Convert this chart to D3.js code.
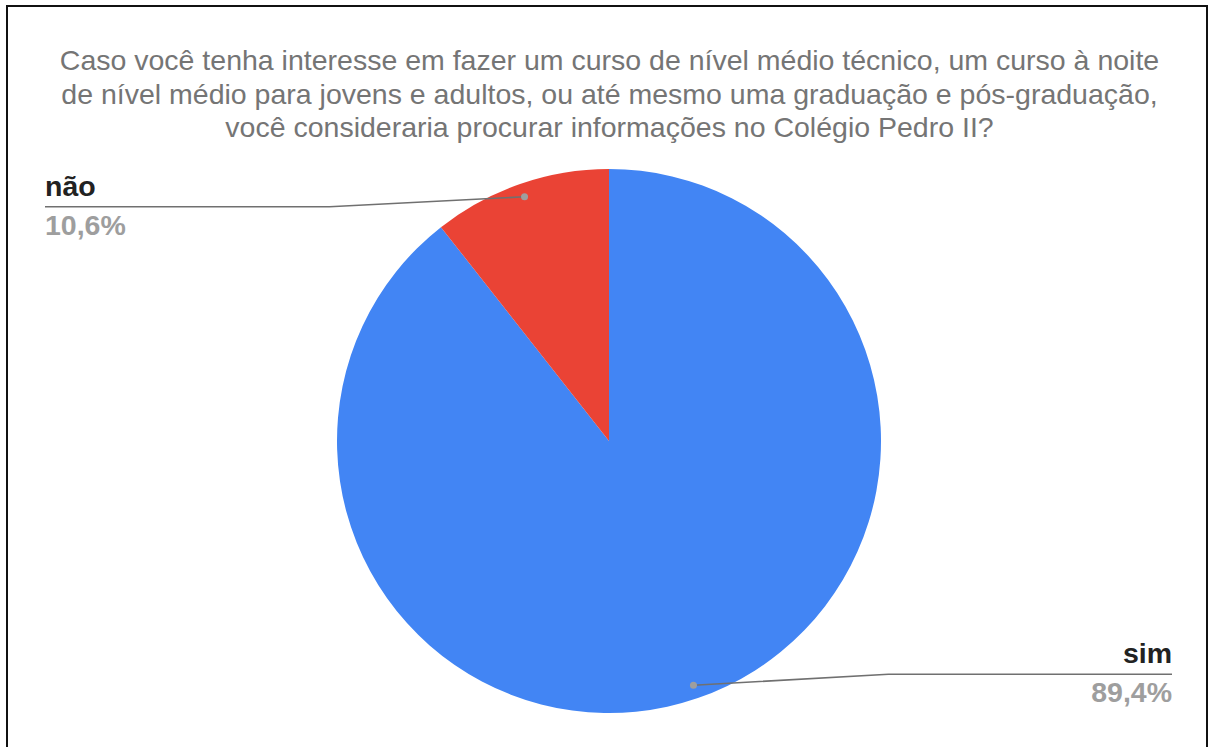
<!DOCTYPE html>
<html>
<head>
<meta charset="utf-8">
<script src="https://cdn.jsdelivr.net/npm/d3@7"></script>
<style>
  html, body { margin: 0; padding: 0; background: #fff; }
  svg { display: block; }
</style>
</head>
<body>
<svg id="chart" width="1210" height="747"></svg>
<script>
// ---- data ----
const titleLines = [
  "Caso você tenha interesse em fazer um curso de nível médio técnico, um curso à noite",
  "de nível médio para jovens e adultos, ou até mesmo uma graduação e pós-graduação,",
  "você consideraria procurar informações no Colégio Pedro II?"
];
const categories = ["sim", "não"];
const values = [89.4, 10.6];
const valueLabels = ["89,4%", "10,6%"];
const colors = ["#4285f4", "#ea4335"];

// ---- layout ----
const W = 1210, H = 747;
const cx = 609, cy = 441, R = 272;
const svg = d3.select("#chart");

svg.append("rect").attr("width", W).attr("height", H).attr("fill", "#fff");

// frame
svg.append("rect")
  .attr("x", 7).attr("y", 6).attr("width", 1200).attr("height", 780)
  .attr("fill", "none").attr("stroke", "#111").attr("stroke-width", 2);

// title
svg.append("g").selectAll("text").data(titleLines).join("text")
  .attr("x", 609.5)
  .attr("y", (d, i) => 70 + i * 33.5)
  .attr("text-anchor", "middle")
  .attr("font-family", "'Liberation Sans', Arial, sans-serif")
  .attr("font-size", 28.5)
  .attr("fill", "#757575")
  .text(d => d);

// pie
const data = categories.map((c, i) => ({ cat: c, value: values[i], label: valueLabels[i], color: colors[i] }));
const pie = d3.pie().sort(null).value(d => d.value).startAngle(0).endAngle(2 * Math.PI);
const arcs = pie(data);
const arc = d3.arc().innerRadius(0).outerRadius(R);
const dotArc = d3.arc().innerRadius(R * 0.95).outerRadius(R * 0.95);

const g = svg.append("g").attr("transform", `translate(${cx},${cy})`);
g.selectAll("path").data(arcs).join("path")
  .attr("d", arc)
  .attr("fill", d => d.data.color);

// labels with leader lines
const leftX = 45, rightX = 1172, bendDx = 195;
arcs.forEach(a => {
  const [px, py] = dotArc.centroid(a);
  const dx = cx + px, dy = cy + py;
  const mid = (a.startAngle + a.endAngle) / 2;
  const onRight = Math.sin(mid) > 0;
  const lineY = onRight ? dy - 11 : dy + 10;
  const bendX = onRight ? dx + bendDx : dx - bendDx;
  const endX = onRight ? rightX : leftX;

  svg.append("path")
    .attr("d", d3.line()([[dx, dy], [bendX, lineY], [endX, lineY]]))
    .attr("fill", "none").attr("stroke", "#707070").attr("stroke-width", 1.6);
  svg.append("circle").attr("cx", dx).attr("cy", dy).attr("r", 3.5).attr("fill", "#9e9e9e");

  const anchor = onRight ? "end" : "start";
  svg.append("text")
    .attr("x", endX).attr("y", lineY - 11)
    .attr("text-anchor", anchor)
    .attr("font-family", "'Liberation Sans', Arial, sans-serif")
    .attr("font-weight", "bold").attr("font-size", 28.5)
    .attr("fill", "#222")
    .text(a.data.cat);
  svg.append("text")
    .attr("x", endX).attr("y", lineY + 28)
    .attr("text-anchor", anchor)
    .attr("font-family", "'Liberation Sans', Arial, sans-serif")
    .attr("font-weight", "bold").attr("font-size", 28.5)
    .attr("fill", "#9e9e9e")
    .text(a.data.label);
});
</script>
</body>
</html>
